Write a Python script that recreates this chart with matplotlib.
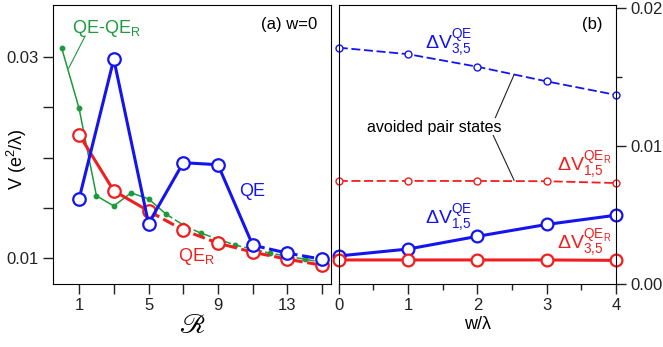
import matplotlib
matplotlib.use('Agg')
import matplotlib.pyplot as plt
import numpy as np
from matplotlib.ticker import FixedLocator, FuncFormatter, MultipleLocator

plt.rcParams['font.family'] = ['Liberation Sans', 'DejaVu Sans']
plt.rcParams['mathtext.fontset'] = 'custom'
plt.rcParams['mathtext.rm'] = 'Liberation Sans'
plt.rcParams['mathtext.it'] = 'Liberation Sans:italic'
plt.rcParams['mathtext.default'] = 'rm'

# panel (a): V vs R at w=0
R_odd = [1, 3, 5, 7, 9, 11, 13, 15]
V_QE = [0.0159, 0.0298, 0.01345, 0.0195, 0.0193, 0.0113, 0.0105, 0.0099]
V_QER = [0.0223, 0.0167, 0.0147, 0.0128, 0.0115, 0.0106, 0.0099, 0.0093]
R_all = list(range(0, 16))
V_diff = [0.0309, 0.0249, 0.0162, 0.0152, 0.0165, 0.0159, 0.0144, 0.0133,
          0.0125, 0.0119, 0.0113, 0.0109, 0.0105, 0.0102, 0.0099, 0.0096]

# panel (b): gaps vs w/lambda
w = [0, 1, 2, 3, 4]
dV35_QE = [0.01710, 0.01663, 0.01572, 0.01466, 0.01368]
dV15_QER = [0.00745, 0.00745, 0.00745, 0.00743, 0.00730]
dV15_QE = [0.00202, 0.00252, 0.00344, 0.00430, 0.00497]
dV35_QER = [0.00173, 0.00173, 0.00173, 0.00173, 0.00170]

blue = '#1414f0'
red = '#f01e1e'
green = '#1c9a3c'

fig = plt.figure(figsize=(6.63, 3.47), dpi=100)
ax1 = fig.add_axes([0.080, 0.182, 0.419, 0.804])
ax2 = fig.add_axes([0.511, 0.182, 0.418, 0.804])

# ---- panel (a)
# green: solid up to R=6, dashed after
ax1.plot(R_all[:7], V_diff[:7], '-', color=green, lw=1.1)
ax1.plot(R_all[6:], V_diff[6:], '--', color=green, lw=1.1, dashes=(5, 2))
ax1.plot(R_all, V_diff, 'o', color=green, ms=3.2, ls='none')

ax1.plot(R_odd[:3], V_QER[:3], '-', color=red, lw=2.2)
ax1.plot(R_odd[2:], V_QER[2:], '--', color=red, lw=2.2, dashes=(4, 1.5))
ax1.plot(R_odd, V_QER, 'o', color=red, mfc='white', ms=9, mew=1.6, ls='none', clip_on=False)

ax1.plot(R_odd[:6], V_QE[:6], '-', color=blue, lw=2.2)
ax1.plot(R_odd[5:], V_QE[5:], '--', color=blue, lw=2.2, dashes=(4, 1.5))
ax1.plot(R_odd, V_QE, 'o', color=blue, mfc='white', ms=9, mew=1.6, ls='none', clip_on=False)

ax1.set_xlim(-0.5, 15.5)
ax1.set_ylim(0.00745, 0.0352)
ax1.xaxis.set_major_locator(FixedLocator(R_odd))
ax1.xaxis.set_major_formatter(FuncFormatter(lambda v, p: '%d' % v if v in (1, 5, 9, 13) else ''))
ax1.yaxis.set_major_locator(FixedLocator([0.01, 0.015, 0.02, 0.025, 0.03]))
ax1.yaxis.set_major_formatter(FuncFormatter(lambda v, p: '%.2f' % v if abs(v - 0.02) > 0.006 else ''))
ax1.tick_params(direction='out', length=7, width=1, labelsize=12, colors='#222222')
ax1.set_ylabel('V (e$^2$/λ)', fontsize=13)
ax1.yaxis.set_label_coords(-0.085, 0.445)
ax1.set_xlabel('ℛ', fontsize=20, family=['STIXGeneral', 'DejaVu Sans'], labelpad=0)

ax1.text(0.95, 0.93, '(a) w=0', transform=ax1.transAxes, ha='right', va='center', fontsize=12)
ax1.text(0.6, 0.0328, 'QE-QE$_R$', color=green, fontsize=13, va='center')
ax1.plot([1.35, 0.4], [0.0321, 0.0289], '-', color=green, lw=0.8)
ax1.text(10.2, 0.0166, 'QE', color=blue, fontsize=13, va='center')
ax1.text(6.7, 0.0102, 'QE$_R$', color=red, fontsize=13, va='center')

# ---- panel (b)
ax2.plot(w, dV35_QE, '--', color=blue, lw=1.3, dashes=(5, 2), marker='o', ms=5,
         mfc='white', mew=1.0, clip_on=False)
ax2.plot(w, dV15_QER, '--', color=red, lw=1.3, dashes=(5, 2), marker='o', ms=5,
         mfc='white', mew=1.0, clip_on=False)
ax2.plot(w, dV15_QE, '-', color=blue, lw=2.2, marker='o', ms=8.5,
         mfc='white', mew=1.6, clip_on=False)
ax2.plot(w, dV35_QER, '-', color=red, lw=2.2, marker='o', ms=8.5,
         mfc='white', mew=1.6, clip_on=False)

ax2.set_xlim(0, 4)
ax2.set_ylim(0, 0.0202)
ax2.xaxis.set_major_locator(MultipleLocator(1))
ax2.xaxis.set_minor_locator(MultipleLocator(0.5))
ax2.yaxis.set_major_locator(MultipleLocator(0.01))
ax2.yaxis.set_minor_locator(MultipleLocator(0.005))
ax2.yaxis.set_major_formatter(FuncFormatter(lambda v, p: '%.2f' % v))
ax2.yaxis.tick_right()
ax2.tick_params(which='both', direction='out', labelsize=12, colors='#222222')
ax2.tick_params(which='major', length=7, width=1)
ax2.tick_params(which='minor', length=4, width=1)
ax2.set_xlabel('w/λ', fontsize=13, labelpad=2)

ax2.text(0.95, 0.93, '(b)', transform=ax2.transAxes, ha='right', va='center', fontsize=12)
ax2.text(1.25, 0.0174, r'$\Delta V^{QE}_{3{,}5}$', color=blue, fontsize=14, va='center')
ax2.text(3.15, 0.0086, r'$\Delta V^{QE_R}_{1{,}5}$', color=red, fontsize=14, va='center')
ax2.text(1.25, 0.00476, r'$\Delta V^{QE}_{1{,}5}$', color=blue, fontsize=14, va='center')
ax2.text(3.15, 0.00296, r'$\Delta V^{QE_R}_{3{,}5}$', color=red, fontsize=14, va='center')
ax2.text(1.38, 0.0113, 'avoided pair states', fontsize=11.5, ha='center', va='center')
ax2.plot([2.53, 2.26], [0.01514, 0.01204], '-', color='#222222', lw=0.8)
ax2.plot([2.23, 2.53], [0.01074, 0.00750], '-', color='#222222', lw=0.8)

fig.savefig('out.png', dpi=100)
